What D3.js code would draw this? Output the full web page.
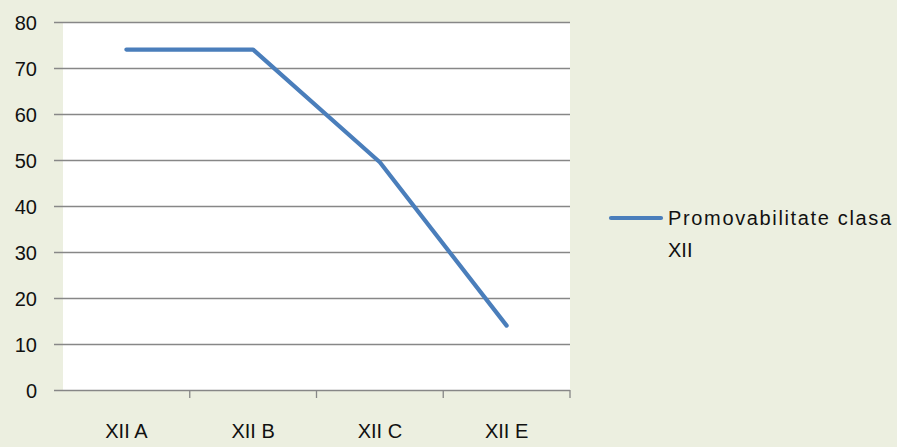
<!DOCTYPE html>
<html>
<head>
<meta charset="utf-8">
<script src="https://cdn.jsdelivr.net/npm/d3@7/dist/d3.min.js"></script>
<style>
  html, body { margin: 0; padding: 0; background: #ECEFE0; }
  svg { display: block; }
  text { font-family: "Liberation Sans", Arial, sans-serif; fill: #111; }
</style>
</head>
<body>
<svg id="chart" width="897" height="447"></svg>
<script>
// Promovabilitate pe clase (%)
const categories = ["XII A", "XII B", "XII C", "XII E"];
const values = [74, 74, 49.5, 14];
const yTicks = [0, 10, 20, 30, 40, 50, 60, 70, 80];
const seriesName = ["Promovabilitate clasa", "XII"];

const svg = d3.select("#chart");
const plot = { left: 63, right: 570, top: 22, bottom: 390 };

const x = d3.scaleBand().domain(categories).range([plot.left, plot.right]);
const y = d3.scaleLinear().domain([0, 80]).range([plot.bottom, plot.top]);

// plot area
svg.append("rect")
  .attr("x", plot.left).attr("y", plot.top)
  .attr("width", plot.right - plot.left).attr("height", plot.bottom - plot.top)
  .attr("fill", "#ffffff");

// horizontal gridlines + value labels
const yAxis = d3.axisLeft(y).tickValues(yTicks).tickSize(0).tickPadding(0);
const gy = svg.append("g").attr("transform", `translate(${plot.left},0)`).call(yAxis);
gy.select(".domain").remove();
gy.selectAll(".tick text").remove();
gy.selectAll(".tick").append("line")
  .attr("x1", -9).attr("x2", plot.right - plot.left)
  .attr("stroke", "#878787").attr("stroke-width", 1.6);
gy.selectAll(".tick").append("text")
  .attr("x", -26).attr("dy", "0.36em")
  .attr("text-anchor", "end")
  .style("font-size", "20px")
  .text(d => d);

// category axis
const xAxis = d3.axisBottom(x).tickSize(0).tickPadding(0);
const gx = svg.append("g").attr("transform", `translate(0,${plot.bottom})`).call(xAxis);
gx.select(".domain").remove();
gx.selectAll(".tick text")
  .attr("y", 34)
  .attr("fill", "#111")
  .style("font-size", "20px")
  .style("font-family", "'Liberation Sans Narrow', 'Liberation Sans', Arial, sans-serif");
const boundaries = categories.map(c => x(c) + x.bandwidth());
svg.append("g").selectAll("line").data(boundaries).join("line")
  .attr("x1", d => d).attr("x2", d => d)
  .attr("y1", plot.bottom).attr("y2", plot.bottom + 8)
  .attr("stroke", "#878787").attr("stroke-width", 1.3);

// series line
const line = d3.line()
  .x((d, i) => x(categories[i]) + x.bandwidth() / 2)
  .y(d => y(d));
svg.append("path")
  .datum(values)
  .attr("d", line)
  .attr("fill", "none")
  .attr("stroke", "#4A7EBB")
  .attr("stroke-width", 4.2)
  .attr("stroke-linecap", "round")
  .attr("stroke-linejoin", "round");

// legend
const lg = svg.append("g");
lg.append("line")
  .attr("x1", 611).attr("x2", 661).attr("y1", 218).attr("y2", 218)
  .attr("stroke", "#4A7EBB").attr("stroke-width", 4.2).attr("stroke-linecap", "round");
lg.append("text")
  .attr("x", 668).attr("y", 225)
  .style("font-size", "20px")
  .selectAll("tspan").data(seriesName).join("tspan")
  .attr("x", 668)
  .attr("dy", (d, i) => i === 0 ? 0 : 32)
  .attr("textLength", (d, i) => i === 0 ? 223 : null)
  .text(d => d);
</script>
</body>
</html>
